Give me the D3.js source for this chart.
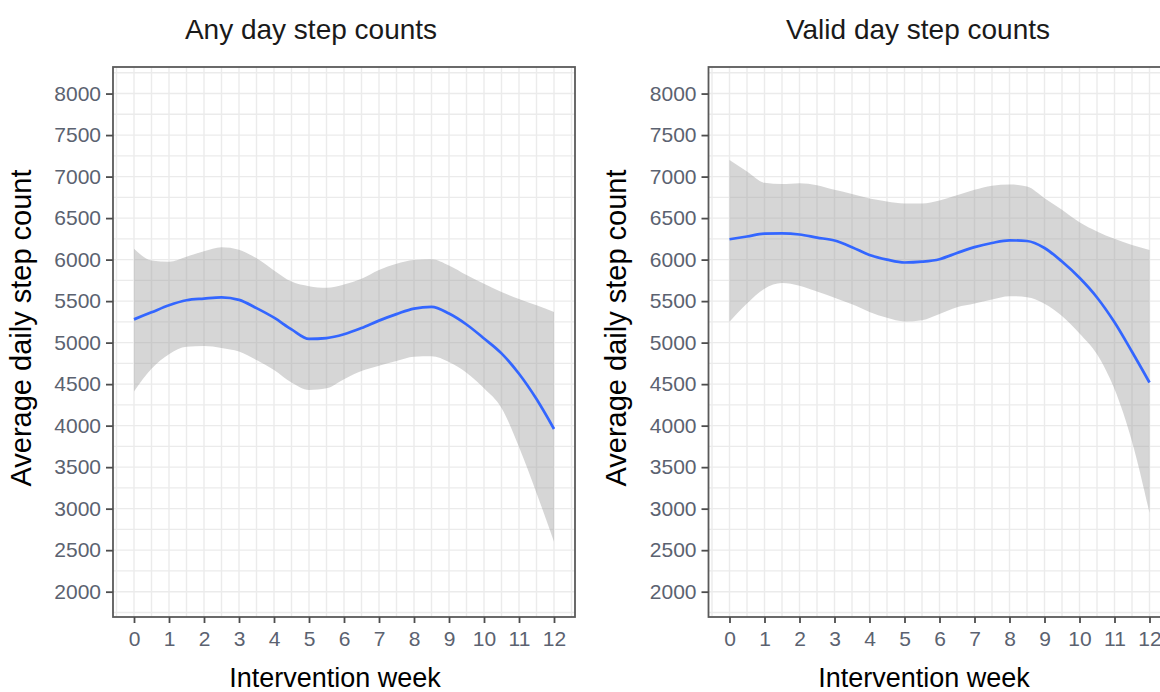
<!DOCTYPE html>
<html>
<head>
<meta charset="utf-8">
<script src="https://cdn.jsdelivr.net/npm/d3@7"></script>
<style>
  body { margin: 0; background: #fff; }
  svg { display: block; font-family: "Liberation Sans", Arial, sans-serif; }
</style>
</head>
<body>
<div class="container"></div>
<script>
// semanas de intervencion (cada media semana)
const weeks = d3.range(0, 12.01, 0.5);

// Panel izquierdo: any day
const anyMean  = [5280, 5365, 5450, 5510, 5530, 5545, 5515, 5415, 5300, 5160, 5045, 5055, 5100,
                  5175, 5265, 5343, 5410, 5430, 5350, 5218, 5050, 4870, 4625, 4320, 3960];
const anyUpper = [6130, 5990, 5975, 6035, 6100, 6150, 6120, 6015, 5870, 5735, 5680, 5660, 5700,
                  5770, 5875, 5950, 5995, 6005, 5930, 5815, 5710, 5610, 5525, 5450, 5370];
const anyLower = [4410, 4684, 4860, 4950, 4958, 4935, 4892, 4790, 4670, 4520, 4430, 4450, 4560,
                  4659, 4722, 4779, 4830, 4835, 4766, 4637, 4450, 4213, 3743, 3190, 2600];

// Panel derecho: valid day
const validMean  = [6245, 6278, 6312, 6315, 6302, 6265, 6230, 6150, 6055, 6000, 5965, 5975, 6005,
                    6080, 6150, 6200, 6232, 6224, 6140, 5977, 5781, 5544, 5245, 4890, 4520];
const validUpper = [7200, 7060, 6925, 6910, 6920, 6895, 6840, 6790, 6735, 6700, 6676, 6676, 6712,
                    6775, 6840, 6890, 6905, 6880, 6740, 6600, 6450, 6340, 6250, 6175, 6115];
const validLower = [5250, 5470, 5650, 5718, 5685, 5615, 5540, 5462, 5370, 5300, 5255, 5270, 5345,
                    5425, 5470, 5520, 5560, 5548, 5469, 5321, 5111, 4860, 4440, 3810, 2950];

const yTicks = d3.range(2000, 8001, 500);
const xTicks = d3.range(0, 13, 1);
const titles = ['Any day step counts', 'Valid day step counts'];
const xTitle = 'Intervention week';
const yTitle = 'Average daily step count';

const WIDTH = 1160;
const HEIGHT = 692;
const PANEL_W = 462;
const PANEL_TOP = 67;
const PANEL_BOTTOM = 617;

const svg = d3.select('.container')
  .append('svg')
    .attr('width', WIDTH)
    .attr('height', HEIGHT);

svg.append('rect').attr('width', WIDTH).attr('height', HEIGHT).attr('fill', '#fff');

const drawPanel = function(left, title, mean, upper, lower, opts) {
  const x = d3.scaleLinear().domain([-0.6, 12.6]).range([left, left + PANEL_W]);
  const y = d3.scaleLinear().domain([1695, 8320]).range([PANEL_BOTTOM, PANEL_TOP]);

  const g = svg.append('g');

  g.append('rect')
    .attr('x', left).attr('y', PANEL_TOP)
    .attr('width', PANEL_W).attr('height', PANEL_BOTTOM - PANEL_TOP)
    .attr('fill', '#fff');

  // grilla (mayor y menor)
  g.selectAll('.vgrid')
    .data(d3.range(-0.5, 12.51, 0.5))
    .enter().append('line')
      .attr('x1', d => x(d)).attr('x2', d => x(d))
      .attr('y1', PANEL_TOP).attr('y2', PANEL_BOTTOM)
      .attr('stroke', '#ebebeb').attr('stroke-width', 1.4);

  g.selectAll('.hgrid')
    .data(d3.range(1750, 8251, 250))
    .enter().append('line')
      .attr('x1', left).attr('x2', left + PANEL_W)
      .attr('y1', d => y(d)).attr('y2', d => y(d))
      .attr('stroke', '#ebebeb').attr('stroke-width', 1.4);

  const rows = weeks.map((w, i) => ({ w: w, m: mean[i], hi: upper[i], lo: lower[i] }));

  const area = d3.area()
    .x(d => x(d.w))
    .y0(d => y(d.lo))
    .y1(d => y(d.hi))
    .curve(d3.curveMonotoneX);

  g.append('path')
    .datum(rows)
    .attr('d', area)
    .attr('fill', '#999999')
    .attr('fill-opacity', 0.4);

  const line = d3.line()
    .x(d => x(d.w))
    .y(d => y(d.m))
    .curve(d3.curveMonotoneX);

  g.append('path')
    .datum(rows)
    .attr('d', line)
    .attr('fill', 'none')
    .attr('stroke', '#3366ff')
    .attr('stroke-width', 2.7);

  g.append('rect')
    .attr('x', left).attr('y', PANEL_TOP)
    .attr('width', PANEL_W).attr('height', PANEL_BOTTOM - PANEL_TOP)
    .attr('fill', 'none')
    .attr('stroke', '#5a5a5a')
    .attr('stroke-width', 1.8);

  // ejes
  const axisX = d3.axisBottom(x).tickValues(xTicks).tickSize(6).tickPadding(8);
  const axisY = d3.axisLeft(y).tickValues(yTicks).tickFormat(d3.format('d')).tickSize(7).tickPadding(5);

  const gx = g.append('g')
    .attr('transform', `translate(0, ${PANEL_BOTTOM})`)
    .call(axisX);
  const gy = g.append('g')
    .attr('transform', `translate(${left}, 0)`)
    .call(axisY);

  [gx, gy].forEach(a => {
    a.select('.domain').remove();
    a.selectAll('.tick line').attr('stroke', '#4d4d4d').attr('stroke-width', 1.8);
    a.selectAll('.tick text')
      .attr('fill', '#5b6270')
      .style('font-size', '21px')
      .style('font-family', '"Liberation Sans", Arial, sans-serif');
  });

  // textos
  g.append('text')
    .attr('x', opts.titleX).attr('y', 39)
    .attr('text-anchor', 'middle')
    .attr('fill', '#1a1a1a')
    .style('font-size', '28px')
    .text(title);

  g.append('text')
    .attr('x', opts.xTitleX).attr('y', 687)
    .attr('text-anchor', 'middle')
    .attr('fill', '#000')
    .style('font-size', '27px')
    .text(xTitle);

  g.append('text')
    .attr('transform', `translate(${opts.yTitleX}, 328) rotate(-90)`)
    .attr('text-anchor', 'middle')
    .attr('fill', '#000')
    .style('font-size', '29px')
    .text(yTitle);
};

drawPanel(113, titles[0], anyMean, anyUpper, anyLower, { titleX: 311, xTitleX: 335, yTitleX: 31 });
drawPanel(708.5, titles[1], validMean, validUpper, validLower, { titleX: 918, xTitleX: 924, yTitleX: 626 });
</script>
</body>
</html>
